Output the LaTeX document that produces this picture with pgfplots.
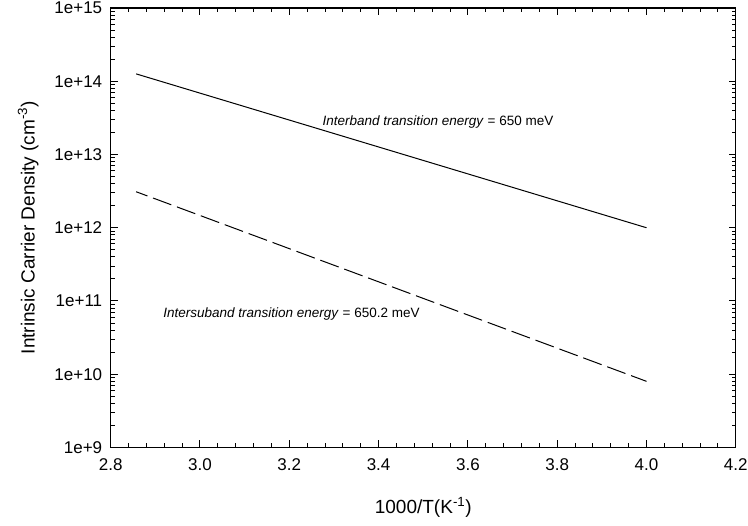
\documentclass[border=0pt]{standalone}
\usepackage{fontspec}
\setmainfont{Liberation Sans}
\usepackage{pgfplots}
\pgfplotsset{compat=1.18}

\begin{document}
\begin{tikzpicture}
\begin{semilogyaxis}[
  scale only axis,
  width=625.1bp, height=439.5bp,
  xmin=2.8, xmax=4.2,
  ymin=1e9, ymax=1e15,
  xtick={2.8,3.0,3.2,3.4,3.6,3.8,4.0,4.2},
  xticklabels={2.8,3.0,3.2,3.4,3.6,3.8,4.0,4.2},
  minor x tick num=4,
  ytick={1e9,1e10,1e11,1e12,1e13,1e14,1e15},
  yticklabels={1e+9,1e+10,1e+11,1e+12,1e+13,1e+14,1e+15},
  tick align=inside,
  major tick length=7bp,
  minor tick length=4bp,
  tick style={black, line width=1bp},
  axis line style={line width=1.3bp},
  ticklabel style={font=\fontsize{17bp}{19bp}\selectfont},
  xticklabel style={yshift=-8bp},
  yticklabel style={xshift=-5bp},
  xlabel={1000/T(K\textsuperscript{-1})},
  ylabel={Intrinsic Carrier Density (cm\textsuperscript{-3})},
  label style={font=\fontsize{19bp}{22bp}\selectfont},
  xlabel style={at={(axis description cs:0.5,-0.136)}, anchor=center},
  ylabel style={at={(axis description cs:-0.132,0.5)}, anchor=center},
  clip=false,
]
\addplot[black, line width=1bp] coordinates {(2.857,1.26e14) (4.0,1.0e12)};
\addplot[black, line width=1bp, dash pattern=on 19.5bp off 6bp, dash phase=7.5bp]
  coordinates {(2.857,3.1e12) (4.0,8.0e9)};
\node[font=\fontsize{13.5bp}{16bp}\selectfont, anchor=center] at (axis cs:3.533,2.75e13)
  {\textit{Interband transition energy} = 650 meV};
\node[font=\fontsize{13.5bp}{16bp}\selectfont, anchor=center] at (axis cs:3.205,6.6e10)
  {\textit{Intersuband transition energy} = 650.2 meV};
\end{semilogyaxis}
\pgfresetboundingbox
\path[use as bounding box] ([shift={(-110.7bp,-77.7bp)}]current axis.south west)
  rectangle ([shift={(12.2bp,8bp)}]current axis.north east);
\end{tikzpicture}
\end{document}
